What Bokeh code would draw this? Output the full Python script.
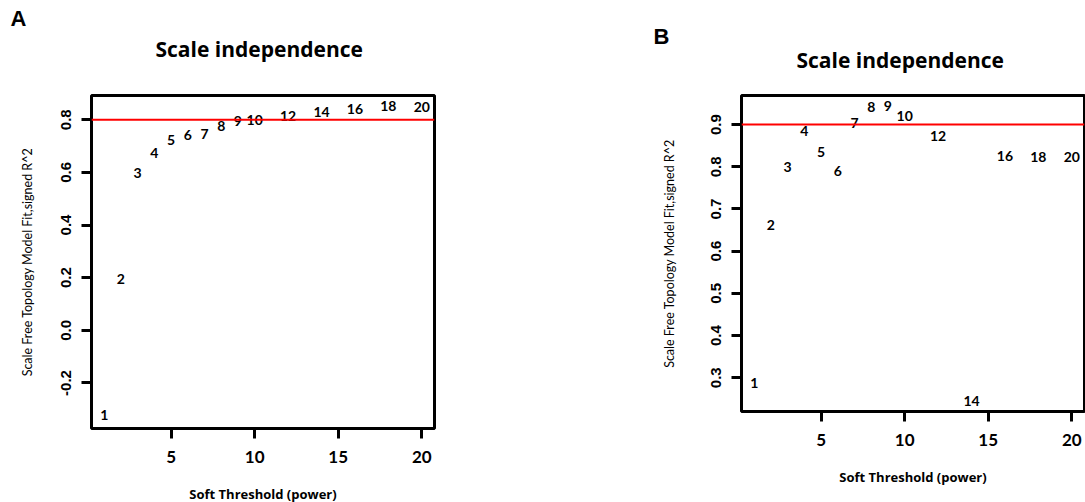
from bokeh.plotting import figure
from bokeh.models import Span, Title, FixedTicker, ColumnDataSource, PrintfTickFormatter
from bokeh.layouts import row
from bokeh.embed import file_html
from bokeh.resources import INLINE
from bokeh.core.properties import value

powers = [1, 2, 3, 4, 5, 6, 7, 8, 9, 10, 12, 14, 16, 18, 20]
labels = [str(v) for v in powers]
r2_a = [-0.323, 0.194, 0.596, 0.673, 0.724, 0.743, 0.745, 0.777, 0.796, 0.800,
        0.815, 0.830, 0.839, 0.852, 0.850]
r2_b = [0.287, 0.663, 0.800, 0.886, 0.835, 0.791, 0.904, 0.942, 0.943, 0.920,
        0.872, 0.244, 0.825, 0.824, 0.824]
xticks = [5, 10, 15, 20]
yticks_a = [-0.2, 0.0, 0.2, 0.4, 0.6, 0.8]
yticks_b = [0.3, 0.4, 0.5, 0.6, 0.7, 0.8, 0.9]
cut_a = 0.80
cut_b = 0.90
title_text = "Scale independence"
xlab = "Soft Threshold (power)"
ylab = "Scale Free Topology Model Fit,signed R^2"


def make_panel(vals, yticks, yrange, cut, letter, border_left, border_right,
               frame_h, border_top, ylab_standoff, title_off, title_standoff,
               title_valign, letter_off, letter_standoff):
    p = figure(output_backend="svg", toolbar_location=None,
               x_range=(0.24, 20.76), y_range=yrange,
               frame_width=343, frame_height=frame_h,
               min_border_left=border_left, min_border_right=border_right,
               min_border_top=border_top,
               min_border_bottom=502 - border_top - frame_h,
               title_location=None)
    p.background_fill_color = "white"
    p.border_fill_color = "white"
    p.outline_line_color = "black"
    p.outline_line_width = 3
    p.xgrid.visible = False
    p.ygrid.visible = False

    src = ColumnDataSource(dict(x=powers, y=vals, t=labels))
    p.text(x="x", y="y", text="t", source=src, text_align="center",
           text_baseline="middle", text_font=value("Lato"),
           text_font_style="bold", text_font_size="14px", text_color="black")

    p.add_layout(Span(location=cut, dimension="width", line_color="red",
                      line_width=2))

    for ax in (p.xaxis[0], p.yaxis[0]):
        ax.axis_line_color = None
        ax.major_tick_line_color = "black"
        ax.major_tick_line_width = 3
        ax.major_tick_out = 10
        ax.major_tick_in = 0
        ax.minor_tick_line_color = None
        ax.major_label_text_color = "black"
        ax.major_label_text_font_style = "bold"
        ax.major_label_standoff = 10
        ax.axis_label_text_color = "black"

    p.xaxis[0].ticker = FixedTicker(ticks=xticks)
    p.xaxis[0].major_label_text_font = "Lato"
    p.xaxis[0].major_label_text_font_size = "17px"
    p.xaxis[0].major_label_standoff = 12
    p.xaxis[0].axis_label = xlab
    p.xaxis[0].axis_label_text_font = "Open Sans"
    p.xaxis[0].axis_label_text_font_style = "bold"
    p.xaxis[0].axis_label_text_font_size = "13px"
    p.xaxis[0].axis_label_standoff = 19

    p.yaxis[0].ticker = FixedTicker(ticks=yticks)
    p.yaxis[0].formatter = PrintfTickFormatter(format="%.1f")
    p.yaxis[0].major_label_orientation = "vertical"
    p.yaxis[0].major_label_text_font = "Liberation Sans"
    p.yaxis[0].major_label_text_font_size = "15px"
    p.yaxis[0].axis_label = ylab
    p.yaxis[0].axis_label_text_font = "Lato"
    p.yaxis[0].axis_label_text_font_style = "normal"
    p.yaxis[0].axis_label_text_font_size = "12.5px"
    p.yaxis[0].axis_label_standoff = ylab_standoff

    p.add_layout(Title(text=title_text, align="left", offset=title_off,
                       standoff=title_standoff, vertical_align=title_valign,
                       text_font="Open Sans", text_font_style="bold",
                       text_font_size="21px", text_color="black"), "above")
    p.add_layout(Title(text=letter, align="left", offset=letter_off,
                       standoff=letter_standoff, text_font="Liberation Sans",
                       text_font_style="bold", text_font_size="22px",
                       text_color="black"), "above")
    return p


pa = make_panel(r2_a, yticks_a, (-0.373, 0.892), cut_a, "A",
                91, 206, 333, 93, 24, 64, 64, "middle", -81, -59)
pb = make_panel(r2_b, yticks_b, (0.22, 0.969), cut_b, "B",
                101, 1, 316, 95, 32, 55, 44, "bottom", -88, -55)

layout = row(pa, pb)
open("out.html", "w").write(file_html(layout, INLINE))
